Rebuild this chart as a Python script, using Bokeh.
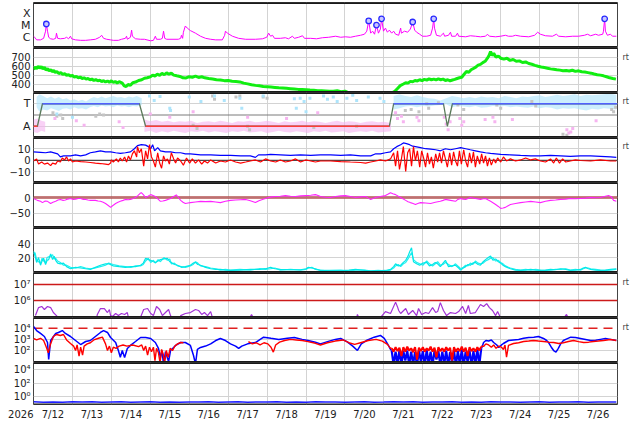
import numpy as np
from bokeh.plotting import figure
from bokeh.models import Range1d, FixedTicker, Span, LinearAxis, LogAxis
from bokeh.layouts import column
from bokeh.embed import file_html
from bokeh.resources import INLINE

NAN = float("nan")

# ---------------- axis labels ----------------
day_ticks = [12.5, 13.5, 14.5, 15.5, 16.5, 17.5, 18.5, 19.5, 20.5, 21.5, 22.5, 23.5, 24.5, 25.5, 26.5]
day_labels = ["7/12", "7/13", "7/14", "7/15", "7/16", "7/17", "7/18", "7/19", "7/20", "7/21",
              "7/22", "7/23", "7/24", "7/25", "7/26"]
grid_days = [13, 14, 15, 16, 17, 18, 19, 20, 21, 22, 23, 24, 25, 26]
year_label = "2026"

# ---------------- panel 1: X-ray flux (log10 W/m2) ----------------
xray = [(12.00,-5.91),(12.03,-6.0),(12.08,-6.22),(12.18,-6.22),(12.26,-6.09),(12.31,-5.48),(12.33,-4.87),(12.36,-5.48),(12.39,-6.0),(12.44,-6.13),
        (12.51,-6.17),(12.57,-6.09),(12.59,-5.65),(12.62,-6.09),(12.69,-6.13),(12.80,-6.09),(12.85,-6.0),(12.90,-6.13),(12.95,-5.91),(12.98,-6.13),
        (13.08,-6.22),(13.21,-6.26),(13.34,-6.26),(13.46,-6.22),(13.59,-6.17),(13.70,-6.0),(13.75,-5.83),(13.80,-6.09),(13.88,-6.17),(13.98,-6.22),
        (14.05,-6.26),(14.18,-6.26),(14.26,-6.17),(14.36,-6.09),(14.39,-5.91),(14.41,-6.17),(14.49,-6.0),(14.52,-5.39),(14.54,-5.91),(14.62,-6.13),
        (14.75,-6.17),(14.85,-6.17),(15.01,-6.30),(15.08,-6.26),(15.13,-5.91),(15.16,-6.17),(15.26,-6.17),(15.31,-6.09),(15.34,-5.48),(15.37,-6.09),
        (15.42,-6.17),(15.72,-6.17),(15.78,-6.09),(15.80,-5.83),(15.83,-6.09),(15.85,-5.57),(15.90,-5.04),(15.95,-5.22),(16.03,-5.43),(16.16,-5.65),
        (16.29,-5.91),(16.42,-6.09),(16.55,-6.17),(16.68,-6.22),(16.85,-6.22),(16.91,-5.83),(16.93,-5.48),(16.98,-5.65),(17.11,-5.91),(17.27,-6.09),
        (17.45,-6.17),(17.70,-6.17),(17.88,-6.13),(17.99,-6.0),(18.04,-5.65),(18.09,-5.91),(18.14,-5.83),(18.19,-6.09),(18.34,-6.09),(18.47,-6.04),
        (18.55,-6.13),(18.65,-5.91),(18.70,-6.09),(18.81,-6.0),(18.91,-5.87),(18.96,-6.09),(19.12,-6.09),(19.27,-6.13),(19.42,-6.04),(19.58,-6.0),
        (19.76,-5.91),(19.89,-6.0),(20.01,-5.96),(20.14,-6.0),(20.27,-5.91),(20.40,-5.83),(20.50,-5.74),(20.56,-5.48),(20.61,-4.61),(20.66,-5.65),
        (20.71,-5.48),(20.76,-5.74),(20.81,-4.96),(20.86,-5.65),(20.91,-5.30),(20.94,-4.43),(20.99,-5.48),(21.04,-5.22),(21.09,-5.57),(21.14,-5.39),
        (21.20,-5.65),(21.25,-5.48),(21.30,-5.74),(21.38,-5.83),(21.43,-5.22),(21.45,-5.65),(21.53,-5.48),(21.61,-5.57),(21.68,-5.30),(21.74,-4.70),
        (21.79,-5.39),(21.84,-5.57),(21.92,-5.74),(21.99,-5.91),(22.10,-5.91),(22.20,-5.83),(22.25,-5.22),(22.28,-4.43),(22.30,-5.22),(22.35,-5.83),
        (22.45,-5.91),(22.53,-5.65),(22.56,-5.91),(22.66,-5.83),(22.71,-5.57),(22.74,-5.91),(22.84,-5.91),(22.89,-5.65),(22.92,-5.91),(23.10,-5.96),
        (23.22,-5.87),(23.35,-5.91),(23.48,-5.96),(23.61,-5.91),(23.66,-5.74),(23.71,-5.91),(23.87,-5.96),(24.00,-5.91),(24.12,-5.83),(24.20,-5.91),
        (24.30,-5.91),(24.38,-5.83),(24.51,-5.91),(24.72,-5.96),(24.87,-5.83),(24.95,-5.57),(25.02,-5.74),(25.15,-5.87),(25.33,-5.91),(25.43,-5.74),
        (25.49,-5.91),(25.67,-5.96),(25.85,-5.91),(26.00,-5.91),(26.15,-5.83),(26.23,-5.74),(26.31,-5.87),(26.44,-5.74),(26.51,-5.83),(26.62,-5.74),
        (26.64,-5.48),(26.67,-4.43),(26.69,-5.48),(26.74,-5.83),(26.82,-5.74),(26.87,-5.91),(26.97,-5.91)]
flares = [(12.33,-4.87),(20.61,-4.61),(20.81,-4.96),(20.94,-4.43),(21.74,-4.70),(22.28,-4.43),(26.67,-4.43)]

# ---------------- panel 2: solar wind speed (km/s) ----------------
speed = [(12.00,565),(12.04,590),(12.08,572),(12.12,600),(12.16,578),(12.20,596),(12.24,570),(12.28,588),(12.32,556),(12.36,574),
         (12.40,548),(12.44,562),(12.48,538),(12.52,552),(12.56,528),(12.60,540),(12.65,518),(12.70,528),(12.75,508),(12.80,515),
         (12.85,498),(12.90,505),(12.95,490),(13.00,496),(13.05,478),(13.10,486),(13.15,470),(13.20,478),(13.25,462),(13.30,470),
         (13.35,455),(13.40,462),(13.45,448),(13.50,456),(13.55,440),(13.60,450),(13.65,436),(13.70,444),(13.75,428),(13.80,438),
         (13.85,424),(13.90,434),(13.95,420),(14.00,436),(14.05,418),(14.10,428),(14.15,412),(14.20,426),(14.28,410),(14.33,380),
         (14.38,372),(14.43,395),(14.49,386),(14.55,415),(14.62,422),(14.70,440),(14.78,448),(14.85,465),(14.92,470),(15.00,480),
         (15.06,500),(15.12,490),(15.18,510),(15.24,498),(15.30,520),(15.36,505),(15.42,525),(15.48,510),(15.54,522),(15.60,500),
         (15.68,492),(15.76,485),(15.84,470),(15.92,468),(16.00,482),(16.08,476),(16.16,488),(16.24,474),(16.32,482),(16.40,470),
         (16.50,462),(16.60,456),(16.70,448),(16.80,446),(16.90,438),(17.00,440),(17.10,432),(17.20,428),(17.30,424),(17.40,410),
         (17.50,402),(17.60,392),(17.70,385),(17.80,380),(17.90,372),(18.00,370),(18.10,366),(18.20,362),(18.30,358),(18.40,356),
         (18.50,352),(18.60,348),(18.70,344),(18.80,340),(18.90,338),(19.00,336),(19.10,332),(19.20,330),(19.30,326),(19.40,324),
         (19.50,322),(19.60,320),(19.70,318),(19.80,324),(19.90,314),(20.00,320),(20.10,300),(20.20,295),(20.40,290),(20.60,288),
         (20.80,290),(21.00,292),(21.20,298),(21.28,318),(21.35,350),(21.42,382),(21.50,400),(21.56,415),(21.62,410),(21.68,430),
         (21.74,425),(21.80,440),(21.86,435),(21.92,448),(21.98,438),(22.04,452),(22.10,444),(22.16,458),(22.22,448),(22.28,455),
         (22.34,446),(22.40,458),(22.46,448),(22.52,455),(22.58,440),(22.64,448),(22.70,436),(22.76,445),(22.82,452),(22.88,462),
         (22.94,470),(23.00,476),(23.06,510),(23.12,540),(23.18,532),(23.24,560),(23.30,575),(23.36,590),(23.42,612),(23.48,620),
         (23.54,640),(23.60,655),(23.66,690),(23.70,720),(23.74,765),(23.78,720),(23.82,745),(23.88,700),(23.94,715),(24.00,690),
         (24.08,680),(24.16,690),(24.24,665),(24.32,675),(24.40,655),(24.48,660),(24.56,642),(24.64,648),(24.72,630),(24.80,622),
         (24.88,610),(24.96,600),(25.04,592),(25.12,585),(25.20,578),(25.28,570),(25.36,565),(25.44,560),(25.52,556),(25.60,550),
         (25.68,552),(25.76,546),(25.84,555),(25.92,542),(26.00,548),(26.08,538),(26.16,534),(26.24,528),(26.32,522),(26.40,512),
         (26.48,505),(26.56,500),(26.64,492),(26.72,482),(26.80,470),(26.88,462),(26.96,455)]

# ---------------- panel 3: sector (T = +1, A = -1) ----------------
sector_t = [12.0, 12.10, 12.23, 14.72, 14.88, 21.14, 21.25, 22.53, 22.63, 22.76, 27.0]
sector_v = [-1, -1, 1, 1, -1, -1, 1, 1, -1, 1, 1]
lb_band1 = [(12.08,1.6,0.7),(12.15,1.85,0.3),(12.25,1.7,0.5),(12.35,1.5,0.4),(12.45,1.65,0.6),(12.55,1.45,0.5),(12.65,1.6,0.35),
            (12.75,1.4,0.55),(12.85,1.5,0.6),(12.95,1.3,0.5),(13.05,1.4,0.7),(13.15,1.25,0.55),(13.25,1.35,0.6),(13.35,1.2,0.5),
            (13.45,1.45,0.7),(13.55,1.6,0.8),(13.65,1.5,0.7),(13.75,1.65,0.85),(13.85,1.5,0.75),(13.95,1.6,0.8),(14.05,1.7,0.7),
            (14.15,1.55,0.85),(14.25,1.6,0.75),(14.35,1.5,0.8),(14.45,1.65,0.7),(14.55,1.55,0.8),(14.65,1.7,0.75),(14.78,1.5,0.9)]
lb_band2 = [(21.25,1.7,0.5),(21.4,1.85,0.6),(21.55,1.7,0.75),(21.7,1.6,0.8),(21.85,1.75,0.7),(22.0,1.6,0.8),(22.15,1.5,0.75),
            (22.3,1.45,0.85),(22.45,1.3,0.9),(22.6,1.5,0.95),(22.75,1.7,0.7),(22.9,1.6,0.8),(23.05,1.5,0.75),(23.2,1.6,0.7),
            (23.35,1.5,0.8),(23.5,1.65,0.65),(23.65,1.55,0.7),(23.8,1.6,0.8),(23.95,1.5,0.75),(24.1,1.7,0.8),(24.25,1.6,0.7),
            (24.4,1.5,0.75),(24.55,1.65,0.7),(24.7,1.6,0.65),(24.85,1.7,0.75),(25.0,1.75,0.6),(25.15,1.6,0.7),(25.3,1.7,0.65),
            (25.45,1.8,0.5),(25.6,1.7,0.6),(25.75,1.75,0.55),(25.9,1.85,0.6),(26.05,1.7,0.5),(26.2,1.8,0.4),(26.35,1.75,0.55),
            (26.5,1.8,0.5),(26.65,1.85,0.6),(26.8,1.9,0.55),(26.97,1.8,0.5)]
pk_band0 = [(12.0,-0.4,-1.5),(12.1,-0.3,-1.6),(12.2,-0.5,-1.4),(12.3,-0.6,-1.5)]
pk_band1 = [(14.85,-0.4,-1.5),(15.0,-0.55,-1.4),(15.15,-0.45,-1.6),(15.3,-0.6,-1.45),(15.45,-0.5,-1.55),(15.6,-0.65,-1.4),
            (15.75,-0.55,-1.5),(15.9,-0.6,-1.6),(16.05,-0.5,-1.45),(16.2,-0.7,-1.5),(16.35,-0.6,-1.4),(16.5,-0.55,-1.55),
            (16.65,-0.65,-1.45),(16.8,-0.5,-1.5),(16.95,-0.6,-1.6),(17.1,-0.7,-1.45),(17.25,-0.55,-1.5),(17.4,-0.6,-1.4),
            (17.55,-0.5,-1.55),(17.7,-0.65,-1.5),(17.85,-0.6,-1.45),(18.0,-0.5,-1.6),(18.15,-0.6,-1.5),(18.3,-0.7,-1.4),
            (18.45,-0.55,-1.5),(18.6,-0.65,-1.55),(18.75,-0.6,-1.45),(18.9,-0.5,-1.5),(19.05,-0.65,-1.6),(19.2,-0.55,-1.45),
            (19.35,-0.6,-1.5),(19.5,-0.7,-1.4),(19.65,-0.6,-1.55),(19.8,-0.5,-1.5),(19.95,-0.65,-1.45),(20.1,-0.55,-1.6),
            (20.25,-0.6,-1.5),(20.4,-0.7,-1.45),(20.55,-0.6,-1.5),(20.7,-0.55,-1.4),(20.85,-0.65,-1.55),(21.0,-0.6,-1.5),
            (21.18,-0.7,-1.45)]
lb_dots = [(14.98,1.7),(15.1,1.3),(15.5,0.6),(15.52,0.4),(16.0,1.6),(16.3,1.2),(16.65,1.7),(17.3,1.5),(17.35,0.6),(17.9,1.7),
           (18.7,1.45),(18.75,0.6),(18.85,1.5),(18.95,1.2),(19.0,0.3),(19.1,1.5),(19.45,1.7),(19.55,1.4),(19.7,1.6),(19.8,1.2),
           (20.2,1.75),(20.3,1.3),(20.6,1.6),(20.9,1.5),(21.0,1.2),(13.0,-0.2),(12.6,0.1),(15.25,1.65),(16.9,1.3),(20.05,1.5)]
pk_dots = [(21.3,0.2),(21.35,-0.3),(21.45,-0.1),(21.5,-0.6),(21.85,-0.2),(21.9,-0.5),(22.55,-0.2),(22.6,-0.8),(22.65,-1.3),
           (22.7,-0.6),(22.95,-0.3),(23.0,-0.9),(23.05,-0.6),(23.6,-0.4),(23.8,-0.2),(23.85,-0.6),(24.3,-0.4),(25.7,-1.3),
           (25.75,-1.6),(25.8,-1.5),(25.85,-1.2),(26.45,-0.5),(12.55,-0.3),(13.1,-0.5),(13.3,-0.9),(14.2,-0.6),(14.3,-1.1),
           (15.5,-0.2),(16.1,0.3),(15.0,0.1),(17.5,-0.2),(18.5,-0.3),(19.3,0.2)]
gy_dots = [(12.5,0.2),(12.6,-0.1),(12.7,0.0),(12.75,-0.3),(13.6,-0.1),(13.7,0.1),(13.8,0.0),(16.6,1.7),(16.65,1.4),(17.2,1.6),
           (17.3,1.7),(17.9,1.6),(18.0,1.5),(16.1,-0.9),(16.2,-1.2),(17.5,-1.0),(17.55,-1.3),(19.2,-1.1),(20.3,-1.0),(21.55,0.4),
           (21.7,0.5),(21.9,0.3),(22.1,1.0),(22.15,0.6),(22.4,1.1),(22.9,0.9),(23.05,0.5),(23.9,0.9),(24.0,0.6),(24.8,1.2),
           (24.9,0.8),(26.85,0.5),(26.9,0.3),(26.95,0.7),(25.6,-1.7),(25.7,-1.8)]

# ---------------- panel 4: IMF Bt and Bz (nT) ----------------
bt = [(12.00,7.3),(12.18,6.9),(12.31,6.5),(12.44,7.3),(12.62,5.6),(12.69,2.9),(12.77,3.8),(12.95,3.8),(13.08,4.7),(13.21,3.8),
      (13.34,4.7),(13.46,6.5),(13.59,7.3),(13.72,8.2),(13.85,7.3),(13.98,7.3),(14.11,6.5),(14.23,6.0),(14.36,6.5),(14.49,7.3),
      (14.59,10.0),(14.67,12.7),(14.77,13.5),(14.88,13.1),(14.95,11.8),(15.01,10.0),(15.06,13.5),(15.11,8.2),(15.19,10.9),(15.26,8.2),
      (15.39,7.3),(15.52,7.3),(15.65,6.5),(15.78,6.5),(15.90,5.6),(16.03,5.6),(16.29,4.7),(16.55,4.7),(16.80,4.2),(17.06,4.2),
      (17.32,3.8),(17.57,3.8),(17.70,2.5),(17.78,4.7),(17.96,4.7),(18.09,5.1),(18.34,4.7),(18.60,4.2),(18.86,4.7),(19.12,4.2),
      (19.37,4.7),(19.63,4.7),(19.89,4.2),(20.14,4.7),(20.40,3.8),(20.66,3.8),(20.79,5.6),(20.91,5.6),(21.04,6.5),(21.17,7.3),
      (21.25,10.0),(21.33,11.8),(21.43,13.5),(21.50,15.0),(21.58,14.4),(21.66,13.5),(21.74,12.2),(21.81,11.8),(21.94,10.9),(22.07,10.0),
      (22.20,9.6),(22.33,9.1),(22.45,8.2),(22.58,10.0),(22.71,9.1),(22.84,10.0),(22.97,10.9),(23.10,10.0),(23.22,9.1),(23.35,8.2),
      (23.48,7.3),(23.61,6.5),(23.74,6.0),(23.87,5.6),(24.00,5.1),(24.25,4.7),(24.51,4.2),(24.77,3.8),(25.02,3.8),(25.28,4.2),
      (25.54,3.8),(25.79,3.4),(26.05,3.8),(26.31,3.8),(26.56,3.4),(26.82,2.9),(26.97,2.5)]
bz = [(12.00,-0.6),(12.08,1.2),(12.13,-3.3),(12.21,-1.5),(12.28,-3.3),(12.36,-2.4),(12.44,-4.6),(12.49,-2.4),(12.57,-3.3),(12.62,-0.6),
      (12.69,-1.5),(12.74,2.0),(12.80,0.3),(12.85,2.9),(12.90,-0.6),(12.95,1.2),(13.00,-1.5),(13.08,-0.6),(13.21,-1.1),(13.34,-1.5),
      (13.46,-1.9),(13.59,-2.4),(13.72,-2.8),(13.85,-3.3),(13.93,-3.7),(13.98,-2.4),(14.00,0.3),(14.05,-1.5),(14.13,1.2),(14.18,-1.5),
      (14.23,2.0),(14.28,-0.6),(14.34,2.9),(14.39,-1.5),(14.44,3.8),(14.49,0.3),(14.54,5.6),(14.59,8.2),(14.65,2.9),(14.67,11.8),
      (14.72,6.5),(14.77,10.0),(14.83,-5.0),(14.88,8.2),(14.93,1.2),(14.98,13.5),(15.03,2.9),(15.08,-0.6),(15.13,-5.9),(15.19,6.5),
      (15.24,-2.4),(15.29,-6.9),(15.34,3.8),(15.39,-0.6),(15.44,1.2),(15.49,-3.3),(15.54,6.5),(15.60,1.2),(15.65,-2.4),(15.70,2.0),
      (15.78,-0.6),(15.85,-4.2),(15.93,2.0),(16.01,-2.4),(16.08,1.2),(16.16,-2.4),(16.24,0.3),(16.32,-3.3),(16.39,-0.6),(16.47,-2.4),
      (16.55,0.3),(16.68,-2.4),(16.80,-0.6),(16.93,-1.5),(17.06,0.3),(17.19,-1.5),(17.32,-2.4),(17.45,-1.5),(17.57,-0.6),(17.70,0.3),
      (17.83,-1.5),(17.96,1.2),(18.09,-0.6),(18.22,-1.5),(18.34,0.3),(18.47,-1.5),(18.60,-0.6),(18.73,1.2),(18.86,-1.5),(18.99,0.3),
      (19.12,-0.6),(19.24,-1.5),(19.37,-0.6),(19.63,-0.6),(19.89,-1.1),(20.14,-1.5),(20.40,-1.9),(20.53,-2.4),(20.66,-1.5),(20.79,-0.6),
      (20.91,0.3),(21.04,-0.6),(21.17,1.2),(21.25,6.5),(21.30,-5.0),(21.35,8.2),(21.40,-7.8),(21.45,1.2),(21.50,11.8),(21.56,-9.6),
      (21.61,6.5),(21.66,10.0),(21.71,-5.0),(21.76,11.8),(21.81,-0.6),(21.86,8.2),(21.92,-5.9),(21.97,8.2),(22.02,2.0),(22.07,-5.9),
      (22.12,6.5),(22.17,-3.3),(22.22,2.9),(22.27,-6.9),(22.33,5.6),(22.38,-1.5),(22.43,6.5),(22.48,-2.4),(22.53,8.2),(22.58,1.2),
      (22.63,-5.9),(22.69,6.5),(22.74,-4.2),(22.79,7.3),(22.84,-0.6),(22.89,-5.0),(22.94,8.2),(22.99,-3.3),(23.05,9.1),(23.10,-0.6),
      (23.15,-5.9),(23.20,6.5),(23.25,-2.4),(23.30,7.3),(23.35,-5.9),(23.40,3.8),(23.46,-3.3),(23.51,5.6),(23.56,-2.4),(23.61,3.8),
      (23.66,-5.0),(23.71,2.0),(23.76,-4.2),(23.82,1.2),(23.87,-2.4),(23.92,2.0),(24.00,-1.5),(24.07,2.9),(24.15,-0.6),(24.25,1.2),
      (24.38,-0.6),(24.51,0.3),(24.64,2.0),(24.77,0.3),(24.89,1.2),(25.02,-0.6),(25.15,-1.5),(25.28,1.2),(25.36,-2.4),(25.43,2.0),
      (25.51,-2.4),(25.59,1.2),(25.67,-1.5),(25.79,-0.6),(25.92,0.3),(26.05,-0.2),(26.31,-0.6),(26.56,0.3),(26.82,-0.6),(26.97,-0.6)]

# ---------------- panel 5: Dst-like index (nT) ----------------
dst = [(12.00,-3),(12.10,-9),(12.18,-12),(12.23,-16),(12.30,-11),(12.36,-12),(12.44,-19),(12.50,-15),(12.57,-12),(12.63,-8),
       (12.69,-6),(12.76,-9),(12.82,-8),(12.88,-5),(12.95,-3),(13.02,-6),(13.08,-5),(13.15,-3),(13.21,-3),(13.28,-6),
       (13.34,-6),(13.40,-8),(13.46,-9),(13.53,-9),(13.59,-9),(13.66,-11),(13.72,-12),(13.79,-15),(13.85,-19),(13.92,-25),
       (13.98,-31),(14.04,-25),(14.11,-19),(14.17,-15),(14.23,-12),(14.30,-9),(14.36,-6),(14.43,-7),(14.49,-6),(14.56,-3),
       (14.62,0),(14.68,6),(14.74,13),(14.77,15),(14.82,9),(14.88,0),(14.94,4),(15.01,9),(15.07,6),(15.13,3),
       (15.20,-5),(15.26,-12),(15.32,-11),(15.39,-9),(15.45,-6),(15.52,-3),(15.60,3),(15.67,8),(15.72,0),(15.78,-9),
       (15.84,-15),(15.90,-19),(15.97,-17),(16.03,-16),(16.16,-14),(16.29,-12),(16.42,-13),(16.55,-12),(16.68,-14),(16.80,-16),
       (16.93,-12),(17.06,-9),(17.19,-8),(17.32,-7),(17.45,-6),(17.57,-10),(17.70,-16),(17.79,-10),(17.88,-6),(17.96,-3),
       (18.04,0),(18.13,2),(18.22,3),(18.34,4),(18.47,6),(18.60,4),(18.73,3),(18.86,5),(18.99,6),(19.12,7),
       (19.24,9),(19.31,6),(19.37,3),(19.50,1),(19.63,0),(19.76,3),(19.89,5),(20.01,6),(20.14,3),(20.27,0),
       (20.40,2),(20.53,3),(20.60,-2),(20.66,-6),(20.72,-3),(20.79,0),(20.91,3),(21.04,6),(21.10,10),(21.17,15),
       (21.23,12),(21.30,9),(21.37,4),(21.43,0),(21.50,-5),(21.56,-9),(21.62,-13),(21.68,-16),(21.75,-19),(21.81,-22),
       (21.87,-19),(21.94,-16),(22.07,-17),(22.20,-19),(22.32,-15),(22.45,-12),(22.52,-9),(22.58,-6),(22.71,-9),(22.84,-12),
       (22.90,-6),(22.97,-3),(23.03,-5),(23.10,-6),(23.16,-3),(23.22,0),(23.35,-3),(23.48,-6),(23.55,-4),(23.61,-3),
       (23.68,-8),(23.74,-12),(23.81,-17),(23.87,-22),(23.94,-28),(24.00,-34),(24.06,-33),(24.12,-31),(24.19,-26),(24.25,-22),
       (24.38,-19),(24.51,-16),(24.64,-14),(24.77,-12),(24.90,-14),(25.02,-16),(25.15,-12),(25.28,-9),(25.41,-8),(25.54,-6),
       (25.67,-5),(25.79,-3),(25.92,-4),(26.05,-3),(26.18,-2),(26.31,0),(26.44,-1),(26.56,0),(26.66,3),(26.77,6),
       (26.84,2),(26.90,-9),(26.97,-12)]

# ---------------- panel 6: two cyan series ----------------
cyan = [(12.00,29,25),(12.04,22,27),(12.08,13,17),(12.13,20,14),(12.18,9,12),(12.22,15,19),(12.26,19,15),(12.31,10,13),(12.35,16,20),(12.39,17,21),
        (12.44,25,22),(12.49,17,24),(12.53,22,18),(12.57,16,19),(12.62,12,15),(12.69,11,13),(12.77,12,9),(12.85,7,9),(12.95,4,6),(13.08,6,5),
        (13.21,5,7),(13.34,4,5),(13.46,3,4),(13.59,6,5),(13.72,9,7),(13.85,11,9),(13.93,11,12),(14.05,8,10),(14.20,7,8),(14.36,6,7),
        (14.50,7,6),(14.62,7,8),(14.75,9,8),(14.82,12,10),(14.88,19,15),(14.95,17,19),(15.01,16,13),(15.08,14,16),(15.13,13,12),(15.20,15,17),
        (15.26,17,14),(15.35,18,20),(15.44,19,16),(15.50,14,18),(15.54,13,11),(15.62,10,12),(15.70,9,8),(15.80,6,7),(15.90,7,6),(16.03,9,8),
        (16.10,12,10),(16.16,13,14),(16.22,10,12),(16.29,9,8),(16.42,6,7),(16.55,4,5),(16.68,3,4),(16.80,3,2),(16.93,2,3),(17.06,1.5,2),
        (17.30,2,3),(17.57,3,2),(17.80,3,4),(17.96,4,3),(18.09,6,4),(18.20,4,5),(18.34,3,2),(18.60,2.5,3),(18.86,2.5,2),(19.00,4,3),
        (19.06,6,5),(19.15,5,6),(19.24,4,3),(19.37,1.5,2),(19.60,1,1.5),(19.89,1,2),(20.10,2,1),(20.27,3,2),(20.50,1.5,2),(20.66,0.5,1),
        (20.85,1,1.5),(21.04,1.5,1),(21.17,3,2),(21.25,7,5),(21.30,11,8),(21.37,8,10),(21.43,9,7),(21.50,13,11),(21.56,16,13),(21.62,22,18),
        (21.66,28,22),(21.71,34,27),(21.76,14,17),(21.84,11,13),(21.92,9,11),(22.00,12,9),(22.10,13,15),(22.17,8,11),(22.25,10,8),(22.32,13,11),
        (22.38,11,14),(22.45,7,9),(22.52,12,10),(22.58,16,13),(22.66,7,10),(22.75,8,7),(22.84,9,11),(22.92,5,7),(22.97,2,4),(23.04,5,6),
        (23.10,7,9),(23.16,10,8),(23.22,9,12),(23.28,12,10),(23.35,13,15),(23.42,10,12),(23.48,9,11),(23.55,14,12),(23.61,17,15),(23.68,20,17),
        (23.74,22,19),(23.80,16,20),(23.87,18,15),(23.94,14,16),(24.00,12,13),(24.06,9,11),(24.12,7,8),(24.20,5,6),(24.25,4,5),(24.38,2,3),
        (24.51,1.5,2),(24.64,2,3),(24.77,3,2),(24.90,2,3),(25.02,1.5,2),(25.15,2,1.5),(25.28,3,2),(25.41,2.5,3),(25.54,4,3),(25.67,3,4),
        (25.79,1.5,2),(25.92,2,3),(26.05,3,2),(26.12,5,4),(26.18,6,5),(26.25,4,5),(26.31,3,4),(26.44,2,3),(26.56,1.5,2),(26.69,2,1.5),
        (26.82,3,2),(26.97,4,3)]

# ---------------- panel 7: proton flux (log10) ----------------
proton = [(12.05,5.06),(12.13,5.56),(12.21,5.63),(12.28,5.44),(12.36,5.63),(12.44,5.56),(12.51,5.25),(12.59,5.06),(12.64,4.9),(12.65,NAN),
          (13.62,4.9),(13.64,5.13),(13.72,5.5),(13.82,5.5),(13.90,5.25),(13.95,5.44),(13.98,5.06),(14.03,5.0),(14.11,5.19),(14.18,5.06),
          (14.26,5.19),(14.34,5.13),(14.41,5.25),(14.44,4.9),(14.45,NAN),
          (14.74,4.9),(14.83,5.44),(14.93,5.5),(15.01,5.19),(15.08,5.06),(15.16,5.63),(15.24,5.44),(15.31,5.06),(15.39,5.25),(15.47,5.44),
          (15.52,5.06),(15.55,4.9),(15.56,NAN),
          (15.76,4.9),(15.78,5.06),(15.90,5.19),(16.03,5.25),(16.16,5.44),(16.24,5.38),(16.32,5.13),(16.39,5.25),(16.47,5.06),(16.55,5.31),
          (16.60,4.9),(16.61,NAN),
          (17.55,4.9),(17.60,5.13),(17.65,4.9),(17.66,NAN),
          (20.30,4.9),(20.32,5.13),(20.36,4.9),(20.37,NAN),
          (20.90,4.9),(21.04,5.31),(21.17,5.19),(21.30,5.9),(21.35,5.6),(21.38,5.38),(21.43,5.19),(21.56,5.5),(21.63,5.13),(21.74,5.38),
          (21.84,5.06),(21.89,5.5),(21.97,5.13),(22.07,5.25),(22.15,5.19),(22.25,5.56),(22.33,5.25),(22.38,5.31),(22.45,5.87),(22.53,5.38),
          (22.61,5.06),(22.71,5.25),(22.84,5.19),(22.92,5.31),(23.02,5.63),(23.10,5.19),(23.17,5.69),(23.22,5.19),(23.35,5.25),(23.48,5.75),
          (23.56,5.63),(23.64,5.81),(23.71,5.56),(23.79,5.38),(23.87,5.06),(23.92,5.31),(24.00,4.9),(24.01,NAN),
          (25.62,4.9),(25.69,5.13),(25.74,4.9)]

# ---------------- panel 8: electron flux (log10), blue and red ----------------
e_blue1 = [(12.00,4.15),(12.08,3.79),(12.18,3.53),(12.28,3.26),(12.36,2.72),(12.39,1.2),(12.44,2.90),(12.57,3.53),(12.64,3.62),(12.74,3.79),
           (12.82,3.53),(12.95,3.26),(13.08,2.90),(13.21,2.54),(13.34,2.81),(13.46,2.90),(13.59,3.26),(13.72,3.62),(13.80,3.79),(13.90,3.62),
           (13.98,3.17),(14.11,2.72),(14.18,2.01),(14.23,1.4),(14.28,2.01),(14.34,1.38),(14.41,2.19),(14.49,2.46),(14.62,2.81),(14.75,3.17),
           (14.88,3.17),(15.01,3.08),(15.13,2.72),(15.21,2.19),(15.26,1.38),(15.30,2.0),(15.34,0.8),(15.39,1.9),(15.42,1.56),(15.47,1.0),
           (15.52,2.01),(15.65,2.46),(15.78,2.72),(15.90,2.72),(16.03,2.46),(16.11,1.56),(16.16,0.8),(16.21,2.10),(16.29,2.28),(16.42,2.4),
           (16.55,2.6),(16.68,2.9),(16.80,3.08),(16.93,2.9),(17.06,2.6),(17.19,2.4),(17.27,2.19),(17.35,2.4),(17.50,2.6),(17.70,2.72),
           (17.91,3.2),(18.10,3.1),(18.30,3.0),(18.52,3.1),(18.70,3.17),(18.90,3.0),(19.05,2.9),(19.24,2.75),(19.37,2.6),(19.55,2.8),
           (19.75,3.0),(19.89,3.08),(20.05,2.8),(20.20,2.4),(20.32,2.01),(20.42,2.6),(20.55,2.9),(20.75,3.2),(20.91,3.35),(21.01,3.1),
           (21.09,2.63),(21.17,2.1),(21.20,2.0)]
e_red1 = [(12.00,3.08),(12.08,2.95),(12.18,3.1),(12.26,2.90),(12.33,2.3),(12.38,1.8),(12.43,2.5),(12.51,3.26),(12.59,3.44),(12.69,3.35),
          (12.77,3.44),(12.85,2.95),(12.95,2.63),(13.03,2.4),(13.08,2.0),(13.12,2.5),(13.17,1.5),(13.21,2.3),(13.26,1.6),(13.30,2.4),
          (13.38,2.6),(13.46,2.7),(13.55,2.95),(13.67,3.1),(13.77,3.2),(13.85,2.6),(13.90,2.0),(13.95,2.4),(14.00,1.8),(14.05,2.3),
          (14.12,2.2),(14.20,2.4),(14.30,2.5),(14.40,2.4),(14.55,2.5),(14.70,2.35),(14.78,2.5),(14.83,2.0),(14.88,2.4),(14.93,1.6),
          (14.98,2.3),(15.03,1.9),(15.08,2.3),(15.12,1.1),(15.16,2.2),(15.21,1.8),(15.25,0.9),(15.29,2.1),(15.33,1.7),(15.37,0.9),
          (15.41,2.0),(15.46,1.4),(15.51,2.2),(15.57,2.0),(15.63,2.4),(15.70,2.6),(15.78,2.72),(15.85,2.7),(15.86,NAN),(17.50,NAN),
          (17.52,2.8),(17.62,2.6),(17.72,2.7),(17.82,2.5),(17.92,2.7),(18.02,2.6),(18.10,2.3),(18.16,1.86),(18.22,2.5),(18.32,2.75),
          (18.45,2.9),(18.60,3.0),(18.75,2.95),(18.90,2.9),(19.05,2.8),(19.24,2.65),(19.37,2.5),(19.55,2.7),(19.75,2.85),(19.95,2.95),
          (20.10,2.7),(20.25,2.55),(20.40,2.7),(20.60,2.9),(20.80,3.0),(20.96,2.85),(21.09,2.55),(21.17,2.2),(21.20,2.2)]
e_band_t = [21.20,21.25,21.30,21.35,21.40,21.45,21.50,21.55,21.60,21.65,21.70,21.75,21.80,21.85,21.90,21.95,
            22.00,22.05,22.10,22.15,22.20,22.25,22.30,22.35,22.40,22.45,22.50,22.55,22.60,22.65,22.70,22.75,
            22.80,22.85,22.90,22.95,23.00,23.05,23.10,23.15,23.20,23.25,23.30,23.35,23.40,23.45,23.50]
e_band_blue = [2.0,0.7,1.9,0.8,2.05,0.7,1.95,1.1,2.0,0.7,1.9,0.8,1.85,0.7,2.0,1.0,1.95,0.7,2.05,0.8,1.9,0.7,2.0,1.2,
               1.95,0.7,1.9,0.8,2.0,0.7,1.85,0.9,2.0,0.7,1.95,0.8,2.05,0.7,1.9,1.0,2.0,0.7,1.95,0.8,2.1,0.7,2.2]
e_band_red = [2.2,1.9,2.3,1.95,2.25,1.5,2.3,1.9,2.35,2.0,2.2,1.85,2.3,1.2,2.25,1.95,2.3,1.9,2.2,2.0,2.35,1.9,2.25,1.4,
              2.3,1.95,2.2,1.9,2.3,2.0,2.25,1.1,2.3,1.9,2.2,1.95,2.35,1.9,2.25,1.5,2.3,1.95,2.2,1.9,2.3,2.0,2.35]
e_blue2 = [(23.50,2.2),(23.52,2.3),(23.56,2.72),(23.62,2.9),(23.69,2.85),(23.76,2.95),(23.82,2.72),(23.90,2.5),(23.95,2.28),(24.02,2.5),(24.07,2.63),
           (24.20,2.90),(24.33,2.95),(24.46,2.99),(24.59,3.1),(24.72,3.17),(24.85,3.2),(24.97,3.26),(25.10,3.08),(25.18,2.9),(25.23,2.72),
           (25.30,2.3),(25.36,2.0),(25.42,1.86),(25.48,2.2),(25.54,2.6),(25.61,2.9),(25.67,3.0),(25.80,3.2),(25.92,3.17),(26.05,3.08),
           (26.18,2.99),(26.31,2.90),(26.44,2.92),(26.56,3.0),(26.69,3.08),(26.82,3.0),(26.97,2.90)]
e_red2 = [(23.50,2.35),(23.52,2.4),(23.56,2.37),(23.62,2.6),(23.69,2.5),(23.76,2.3),(23.82,2.5),(23.88,2.2),(23.95,2.4),(24.02,2.3),(24.07,2.1),
          (24.11,2.5),(24.15,1.4),(24.20,2.46),(24.33,2.63),(24.46,2.7),(24.59,2.81),(24.72,2.85),(24.84,2.90),(24.97,2.85),(25.10,2.81),
          (25.23,2.75),(25.36,2.72),(25.49,2.63),(25.61,2.7),(25.74,2.81),(25.87,2.90),(26.00,2.8),(26.13,2.72),(26.26,2.75),(26.38,2.81),
          (26.51,2.85),(26.64,2.90),(26.82,2.99),(26.97,2.90)]

# ---------------- panel 9: low flux (log10) ----------------
low = [(12.0,-0.70),(12.25,-0.77),(12.5,-0.73),(12.75,-0.79),(13.0,-0.72),(13.25,-0.75),(13.5,-0.70),(13.75,-0.78),(14.0,-0.74),(14.25,-0.71),
       (14.5,-0.77),(14.75,-0.73),(15.0,-0.69),(15.25,-0.76),(15.5,-0.74),(15.75,-0.79),(16.0,-0.73),(16.25,-0.75),(16.5,-0.71),(16.75,-0.77),
       (17.0,-0.74),(17.25,-0.72),(17.5,-0.78),(17.75,-0.73),(18.0,-0.75),(18.25,-0.70),(18.5,-0.76),(18.75,-0.74),(19.0,-0.77),(19.25,-0.72),
       (19.5,-0.75),(19.75,-0.73),(20.0,-0.78),(20.25,-0.74),(20.5,-0.71),(20.75,-0.76),(21.0,-0.73),(21.25,-0.69),(21.5,-0.75),(21.75,-0.72),
       (22.0,-0.77),(22.25,-0.73),(22.5,-0.75),(22.75,-0.71),(23.0,-0.76),(23.25,-0.74),(23.5,-0.78),(23.75,-0.72),(24.0,-0.75),(24.25,-0.73),
       (24.5,-0.77),(24.75,-0.74),(25.0,-0.71),(25.25,-0.76),(25.5,-0.73),(25.75,-0.75),(26.0,-0.72),(26.25,-0.77),(26.5,-0.74),(26.75,-0.73),
       (26.97,-0.75)]


# =====================================================================
def cols(pts):
    return [list(c) for c in zip(*pts)]

def pow10(v):
    return list(10.0 ** np.array(v, dtype=float))

X_START, X_END = 12.0, 27.0
xr = Range1d(X_START, X_END)
W, LB, RB = 634, 33, 17
GRID = "#d3d3d3"
FONT = "DejaVu Sans"

def panel(yr, h, log=False, top=0, bottom=0, xaxis=False, bottom_width=3):
    p = figure(width=W, height=h, x_range=xr, y_range=yr,
               y_axis_type="log" if log else "linear",
               x_axis_location="below" if xaxis else None,
               output_backend="svg", toolbar_location=None,
               min_border_left=LB, min_border_right=RB,
               min_border_top=top, min_border_bottom=bottom)
    p.outline_line_color = "#444444"
    p.background_fill_color = "white"
    p.border_fill_color = "white"
    p.xgrid.ticker = FixedTicker(ticks=grid_days)
    p.xgrid.grid_line_color = GRID
    p.ygrid.grid_line_color = GRID
    ax = p.yaxis[0]
    ax.axis_line_color = None
    ax.major_tick_line_color = None
    ax.minor_tick_line_color = None
    ax.major_tick_out = 0
    ax.major_tick_in = 0
    ax.minor_tick_out = 0
    ax.minor_tick_in = 0
    ax.major_label_standoff = 3
    ax.major_label_text_font = FONT
    ax.major_label_text_font_size = "10px"
    ax.major_label_text_color = "#222222"
    p.add_layout(Span(location=yr.end, dimension="width", line_color="#1a1a1a", line_width=3))
    p.add_layout(Span(location=yr.start, dimension="width", line_color="#1a1a1a", line_width=bottom_width))
    return p

def yticks(p, ticks, labels, grid=True, size=None):
    p.yaxis.ticker = FixedTicker(ticks=ticks)
    p.yaxis.major_label_overrides = dict(zip(ticks, labels))
    if size:
        p.yaxis.major_label_text_font_size = size
    if not grid:
        p.ygrid.grid_line_color = None

def rt(p, y, log=False):
    cls = LogAxis if log else LinearAxis
    ax = cls(ticker=FixedTicker(ticks=[y]), major_label_overrides={y: "rt"})
    ax.axis_line_color = None
    ax.major_tick_line_color = None
    ax.minor_tick_line_color = None
    ax.major_tick_out = 0
    ax.major_tick_in = 0
    ax.minor_tick_out = 0
    ax.minor_tick_in = 0
    ax.major_label_standoff = 5
    ax.major_label_text_font = FONT
    ax.major_label_text_font_size = "8px"
    ax.major_label_text_color = "#444444"
    p.add_layout(ax, "right")

def hline(p, y, color, width=1, alpha=1.0, dash="solid"):
    p.add_layout(Span(location=y, dimension="width", line_color=color, line_width=width,
                      line_alpha=alpha, line_dash=dash, level="underlay"))

figs = []

# ---- panel 1
p1 = panel(Range1d(10 ** -6.87, 10 ** -3.04), 47, log=True, top=2)
yticks(p1, [1e-6, 1e-5, 1e-4], ["C", "M", "X"], grid=False, size="11px")
xt, xv = cols(xray)
p1.line(xt, pow10(xv), line_color="#ff00ff", line_width=1)
ft, fv = cols(flares)
p1.scatter(ft, pow10(fv), marker="circle", size=5.5, line_color="#2a2aff", fill_color="#c8c8ff", line_width=1.3)
figs.append(p1)

# ---- panel 2
p2 = panel(Range1d(305, 810), 45)
yticks(p2, [400, 500, 600, 700], ["400", "500", "600", "700"])
st, sv = cols(speed)
p2.line(st, sv, line_color="#11ee11", line_width=3)
rt(p2, 698.0)
figs.append(p2)

# ---- panel 3
p3 = panel(Range1d(-2, 2), 45)
yticks(p3, [-1, 1], ["A", "T"], size="11px")
hline(p3, 0, "#7a7a7a", 1)
for band, col in ((lb_band1, "#ade4fb"), (lb_band2, "#ade4fb"), (pk_band0, "#f6b4f0"), (pk_band1, "#f6b4f0")):
    bt_, btop, bbot = cols(band)
    p3.varea(x=bt_, y1=bbot, y2=btop, fill_color=col, fill_alpha=0.62)
for dots, col in ((gy_dots, "#c4c4c4"), (lb_dots, "#ade4fb"), (pk_dots, "#f6b4f0")):
    dt, dv = cols(dots)
    p3.scatter(dt, dv, marker="square", size=3, line_color=None, fill_color=col)
p3.line(sector_t, sector_v, line_color="#5a7a5a", line_width=1.3)
for i in range(len(sector_t) - 1):
    if sector_v[i] == sector_v[i + 1]:
        c = "#5060ff" if sector_v[i] > 0 else "#ff3a3a"
        p3.line([sector_t[i], sector_t[i + 1]], [sector_v[i], sector_v[i + 1]], line_color=c, line_width=1.5)
rt(p3, 1.2)
figs.append(p3)

# ---- panel 4
p4 = panel(Range1d(-19.2, 19.7), 45)
yticks(p4, [-10, 0, 10], ["\u221210", "0", "10"])
hline(p4, 0, "#222222", 1)
t_, v_ = cols(bt)
p4.line(t_, v_, line_color="#0000ff", line_width=1.2)
t_, v_ = cols(bz)
p4.line(t_, v_, line_color="#ff0000", line_width=1.2)
rt(p4, 11.9)
figs.append(p4)

# ---- panel 5
p5 = panel(Range1d(-94, 47), 45)
yticks(p5, [-50, 0], ["\u221250", "0"])
hline(p5, 0, "#b04848", 3, 0.7)
t_, v_ = cols(dst)
p5.line(t_, v_, line_color="#ff22ff", line_width=1.1)
figs.append(p5)

# ---- panel 6
p6 = panel(Range1d(-1.4, 62.9), 45)
yticks(p6, [20, 40], ["20", "40"])
ct, ca, cb = cols(cyan)
p6.line(ct, cb, line_color="#22f0f0", line_width=1.2)
p6.line(ct, ca, line_color="#00e8e8", line_width=1.2)
figs.append(p6)

# ---- panel 7
p7 = panel(Range1d(10 ** 4.94, 10 ** 7.75), 45, log=True)
yticks(p7, [1e6, 1e7], ["10\u2076", "10\u2077"], grid=False)
hline(p7, 1e6, "#cc1a1a", 1.5)
hline(p7, 1e7, "#cc1a1a", 1.5)
pt, pv = cols(proton)
p7.line(pt, pow10(pv), line_color="#a233d6", line_width=1.2)
rt(p7, 10 ** 7.13, log=True)
figs.append(p7)

# ---- panel 8
p8 = panel(Range1d(10 ** 0.93, 10 ** 4.96), 45, log=True)
yticks(p8, [1e2, 1e3, 1e4], ["10\u00b2", "10\u00b3", "10\u2074"])
p8.ygrid.ticker = FixedTicker(ticks=[1e2, 1e3])
hline(p8, 1e4, "#e02020", 1.5, 1.0, "9 6")
b1t, b1v = cols(e_blue1)
b2t, b2v = cols(e_blue2)
r1t, r1v = cols(e_red1)
r2t, r2v = cols(e_red2)
p8.line(b1t, pow10(b1v), line_color="#0000ff", line_width=1.5)
p8.line(b2t, pow10(b2v), line_color="#0000ff", line_width=1.5)
p8.line(e_band_t, pow10(e_band_blue), line_color="#0000ff", line_width=2.2)
p8.line(r1t, pow10(r1v), line_color="#ff0000", line_width=1.4)
p8.line(r2t, pow10(r2v), line_color="#ff0000", line_width=1.4)
p8.line(e_band_t, pow10(e_band_red), line_color="#ff0000", line_width=2.0)
rt(p8, 10 ** 4.06, log=True)
figs.append(p8)

# ---- panel 9 (with the date axis)
p9 = panel(Range1d(10 ** -1.1, 10 ** 4.97), 60, log=True, bottom=16, xaxis=True, bottom_width=2)
yticks(p9, [1e0, 1e2, 1e4], ["10\u2070", "10\u00b2", "10\u2074"])
lt, lv = cols(low)
p9.line(lt, pow10(lv), line_color="#2020ff", line_width=1.5)
xa = p9.xaxis[0]
x_ticks = [X_START] + day_ticks
x_labels = [year_label + "\u2007\u2007\u2007\u2007"] + day_labels
xa.ticker = FixedTicker(ticks=x_ticks)
xa.major_label_overrides = dict(zip(x_ticks, x_labels))
xa.axis_line_color = None
xa.major_tick_line_color = None
xa.minor_tick_line_color = None
xa.major_tick_out = 0
xa.major_tick_in = 0
xa.minor_tick_out = 0
xa.minor_tick_in = 0
xa.major_label_standoff = 4
xa.major_label_text_font = FONT
xa.major_label_text_font_size = "10px"
xa.major_label_text_color = "#222222"
figs.append(p9)

layout = column(*figs, spacing=0)
open("out.html", "w").write(file_html(layout, INLINE))
